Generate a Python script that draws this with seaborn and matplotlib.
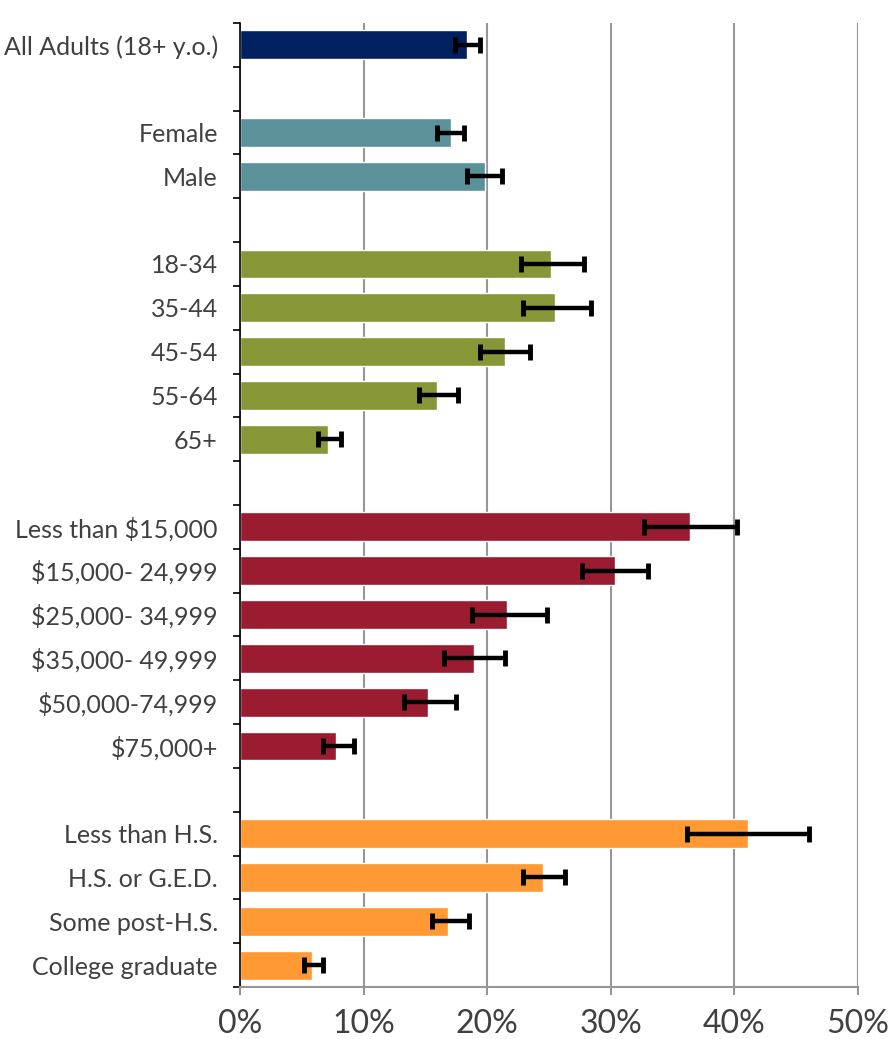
import numpy as np
import pandas as pd
import matplotlib
matplotlib.use("Agg")
import matplotlib.pyplot as plt
import seaborn as sns
from matplotlib.ticker import FixedLocator, PercentFormatter
from matplotlib import font_manager

categories = ["All Adults (18+ y.o.)", "Female", "Male", "18-34", "35-44", "45-54", "55-64", "65+",
              "Less than $15,000", "$15,000- 24,999", "$25,000- 34,999", "$35,000- 49,999",
              "$50,000-74,999", "$75,000+", "Less than H.S.", "H.S. or G.E.D.", "Some post-H.S.",
              "College graduate"]
groups = ["All", "Sex", "Sex", "Age", "Age", "Age", "Age", "Age",
          "Income", "Income", "Income", "Income", "Income", "Income",
          "Education", "Education", "Education", "Education"]
values = [18.4, 17.1, 19.8, 25.2, 25.5, 21.4, 15.9, 7.1,
          36.4, 30.3, 21.6, 18.9, 15.2, 7.8, 41.1, 24.5, 16.8, 5.8]
ci_low = [17.4, 15.9, 18.4, 22.7, 22.9, 19.4, 14.5, 6.3,
          32.7, 27.7, 18.8, 16.5, 13.3, 6.7, 36.2, 22.9, 15.5, 5.2]
ci_high = [19.4, 18.1, 21.2, 27.8, 28.4, 23.5, 17.6, 8.2,
           40.2, 33.0, 24.8, 21.4, 17.5, 9.2, 46.0, 26.3, 18.5, 6.7]

row_order = ["All Adults (18+ y.o.)", "",
             "Female", "Male", " ",
             "18-34", "35-44", "45-54", "55-64", "65+", "  ",
             "Less than $15,000", "$15,000- 24,999", "$25,000- 34,999", "$35,000- 49,999",
             "$50,000-74,999", "$75,000+", "   ",
             "Less than H.S.", "H.S. or G.E.D.", "Some post-H.S.", "College graduate"]

palette = {"All": "#002060", "Sex": "#5B9199", "Age": "#879637",
           "Income": "#9B1C31", "Education": "#FF9933"}

df = pd.DataFrame({"category": categories, "group": groups, "value": values,
                   "lo": ci_low, "hi": ci_high})

names = [f.name for f in font_manager.fontManager.ttflist]
fam = "Lato" if "Lato" in names else "DejaVu Sans"

sns.set_style("white")
plt.rcParams["font.family"] = [fam, "DejaVu Sans"]

fig = plt.figure(figsize=(8.89, 10.39), dpi=100)
ax = fig.add_axes([240/889, 1-987/1039, (858-240)/889, (987-23)/1039])

sns.barplot(data=df, y="category", x="value", hue="group", order=row_order,
            palette=palette, dodge=False, orient="h", width=0.66, legend=False,
            errorbar=None, ax=ax, saturation=1)

ypos = np.array([row_order.index(c) for c in categories])
v = np.array(values)
ax.errorbar(v, ypos, xerr=[v - np.array(ci_low), np.array(ci_high) - v],
            fmt="none", ecolor="black", elinewidth=3.2, capsize=6, capthick=3.5, zorder=5)

ax.set_xlim(0, 50)
ax.set_ylim(len(row_order) - 0.5, -0.5)
ax.set_xticks([0, 10, 20, 30, 40, 50])
ax.xaxis.set_major_formatter(PercentFormatter(decimals=0))
ax.grid(axis="x", color="#969696", linewidth=1.5)
ax.grid(axis="y", visible=False)
ax.set_axisbelow(True)

ax.yaxis.set_minor_locator(FixedLocator(np.arange(-0.5, len(row_order), 1.0)))
ax.tick_params(axis="y", which="major", length=0, pad=16, labelsize=18, labelcolor="#404040")
ax.tick_params(axis="y", which="minor", length=5, width=1.2, color="black", left=True)
ax.tick_params(axis="x", which="major", length=6, width=1.2, color="#808080", bottom=True,
               labelsize=23, labelcolor="#404040", pad=10)
for lab in ax.get_yticklabels() + ax.get_xticklabels():
    lab.set_fontweight("normal")
    lab.set_color("#404040")

for s in ["top", "right"]:
    ax.spines[s].set_visible(False)
ax.spines["left"].set_color("black")
ax.spines["left"].set_linewidth(1.2)
ax.spines["bottom"].set_color("#969696")
ax.spines["bottom"].set_linewidth(1.5)
ax.set_xlabel("")
ax.set_ylabel("")

fig.savefig("out.png", dpi=100)
